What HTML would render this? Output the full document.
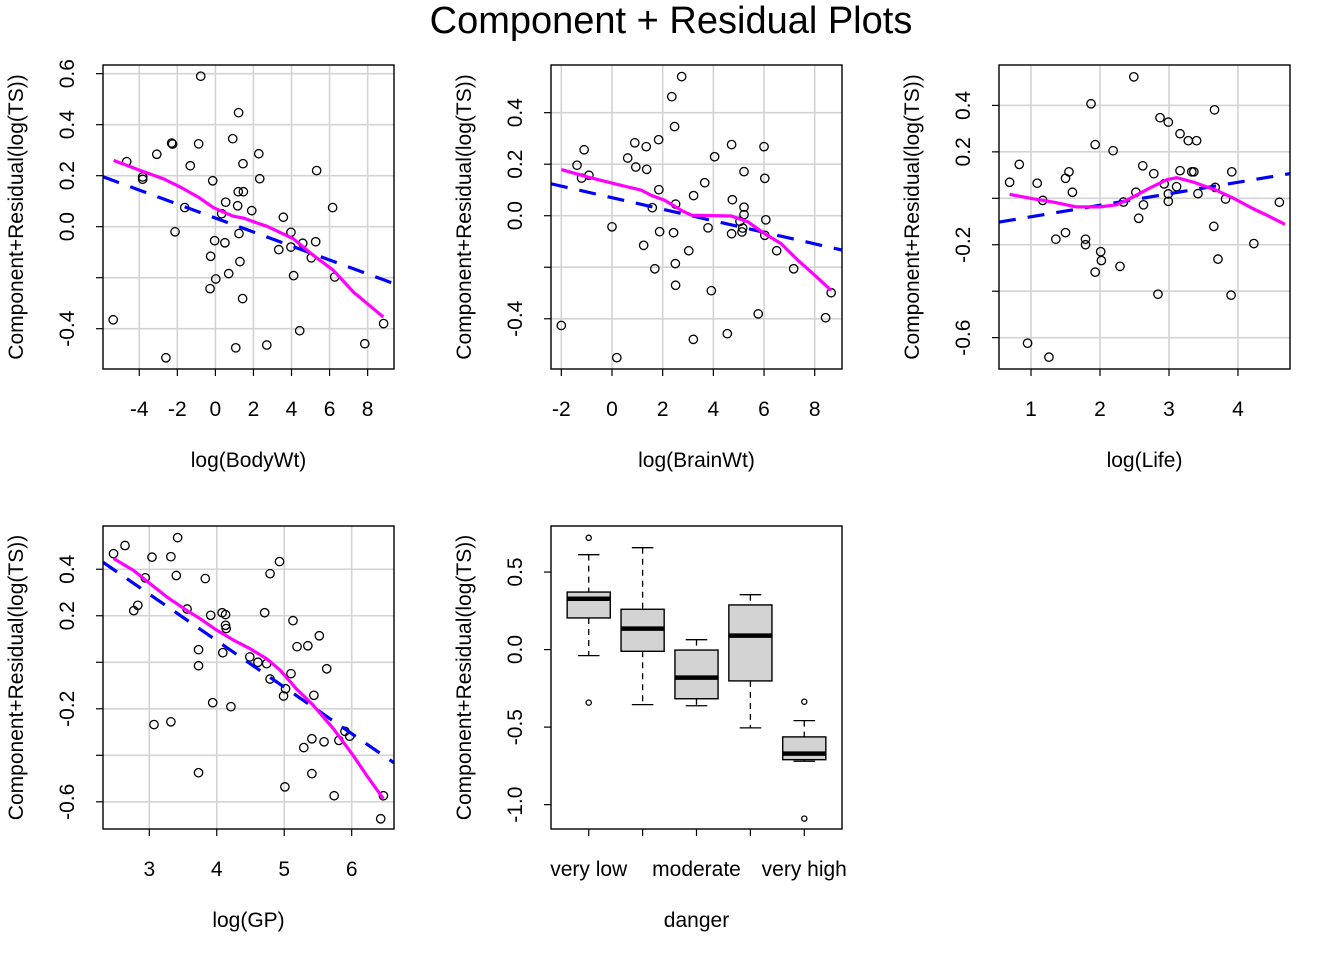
<!DOCTYPE html>
<html><head><meta charset="utf-8"><style>
body{margin:0;background:#fff;}
svg{display:block;font-family:"Liberation Sans",Arial,sans-serif;}
</style></head><body>
<svg id="chart" width="1344" height="960" viewBox="0 0 1344 960" xmlns="http://www.w3.org/2000/svg">
<rect width="1344" height="960" fill="#fff"/>
<text x="671" y="33" font-size="38" text-anchor="middle">Component + Residual Plots</text>
</svg>
<script>
// Panel 1: log(BodyWt)
const p1x=[-0.77,1.22,0.91,-2.30,-2.25,-0.88,-3.08,2.28,-4.66,-1.32,1.45,5.32,-3.82,-3.82,-0.14,2.33,1.20,1.47,0.54,1.17,-1.61,1.91,6.16,0.33,3.57,-2.12,1.24,3.97,-0.04,0.50,4.59,5.27,3.97,3.33,-0.25,5.04,1.29,0.70,4.11,6.27,0.02,-0.28,1.43,-5.37,8.84,4.43,7.85,2.70,1.07,-2.60];
const p1y=[0.59,0.447,0.345,0.328,0.324,0.325,0.284,0.286,0.255,0.239,0.247,0.22,0.195,0.186,0.18,0.188,0.137,0.137,0.096,0.082,0.075,0.063,0.075,0.051,0.037,-0.02,-0.027,-0.022,-0.055,-0.063,-0.065,-0.059,-0.08,-0.09,-0.116,-0.122,-0.137,-0.184,-0.192,-0.197,-0.205,-0.243,-0.282,-0.365,-0.38,-0.408,-0.459,-0.464,-0.475,-0.514];
const p1sx=[-5.35,-3.96,-2.74,-1.86,-0.90,-0.11,0.94,1.47,2.17,2.70,4.09,5.14,6.20,7.25,8.82];
const p1sy=[0.26,0.221,0.188,0.156,0.116,0.075,0.041,0.034,0.015,0.002,-0.047,-0.112,-0.171,-0.256,-0.354];
const p1fit=[0.034,-0.0274];
// Panel 2: log(BrainWt)
const p2x=[2.75,2.36,2.47,-1.10,0.90,1.35,1.84,4.72,6.00,4.05,0.62,-1.38,0.94,1.37,5.21,-1.20,-0.91,6.03,3.66,1.85,3.22,4.75,2.51,1.59,5.21,5.21,6.07,5.05,0.0,3.79,5.16,1.88,2.43,4.72,5.13,6.03,1.25,3.03,6.50,2.50,1.69,7.17,2.51,3.92,8.65,5.77,8.43,-2.0,4.55,3.21,0.19];
const p2y=[0.54,0.462,0.346,0.256,0.283,0.268,0.295,0.276,0.268,0.229,0.224,0.196,0.189,0.18,0.171,0.146,0.157,0.145,0.128,0.101,0.078,0.062,0.045,0.031,0.033,0.004,-0.016,-0.022,-0.043,-0.047,-0.048,-0.062,-0.066,-0.07,-0.063,-0.076,-0.115,-0.136,-0.136,-0.186,-0.206,-0.206,-0.27,-0.291,-0.299,-0.381,-0.396,-0.426,-0.458,-0.48,-0.551];
const p2sx=[-2.0,-0.95,0.11,1.16,1.55,2.08,2.73,3.13,4.71,5.37,6.03,6.68,7.34,8.0,8.65];
const p2sy=[0.179,0.15,0.124,0.099,0.079,0.06,0.021,0.002,-0.001,-0.024,-0.07,-0.109,-0.173,-0.231,-0.29];
const p2fit=[0.070,-0.0224];
// Panel 3: log(Life)
const p3x=[2.49,1.87,3.66,2.87,2.99,3.16,3.28,3.40,1.93,2.19,0.83,2.62,1.55,2.78,3.16,3.33,3.36,3.91,0.69,1.09,1.50,2.93,3.11,3.67,1.60,2.52,2.99,3.42,1.17,2.34,2.99,3.82,4.60,2.63,2.56,3.65,1.36,1.50,1.79,1.79,4.23,2.01,2.02,2.29,1.93,3.71,2.84,3.90,0.95,1.26];
const p3y=[0.523,0.407,0.381,0.347,0.328,0.278,0.248,0.248,0.231,0.205,0.146,0.14,0.114,0.106,0.119,0.114,0.114,0.114,0.069,0.065,0.086,0.062,0.05,0.047,0.026,0.026,0.019,0.02,-0.009,-0.016,-0.013,-0.003,-0.017,-0.028,-0.086,-0.121,-0.176,-0.148,-0.176,-0.2,-0.195,-0.23,-0.268,-0.293,-0.318,-0.262,-0.413,-0.417,-0.624,-0.684];
const p3sx=[0.69,1.03,1.32,1.66,2.0,2.24,2.48,2.72,2.97,3.11,3.35,3.69,3.93,4.22,4.42,4.68];
const p3sy=[0.017,-0.002,-0.016,-0.037,-0.037,-0.028,0.006,0.044,0.08,0.089,0.07,0.034,0.001,-0.045,-0.073,-0.112];
const p3fit=[-0.129,0.0495];
// Panel 4: log(GP)
const p4x=[3.42,2.64,2.47,3.04,3.32,4.93,4.79,3.40,2.94,3.83,2.83,2.77,3.56,4.71,3.91,4.08,4.13,4.13,4.14,5.13,5.52,5.19,5.35,3.73,4.09,4.49,4.61,4.74,3.73,5.63,5.10,4.79,5.02,4.99,5.44,3.94,4.21,3.07,3.32,5.90,5.97,5.41,5.59,5.81,5.29,3.73,5.41,5.01,5.74,6.47,6.43];
const p4y=[0.536,0.502,0.467,0.452,0.454,0.433,0.381,0.373,0.363,0.36,0.245,0.222,0.229,0.213,0.202,0.213,0.205,0.159,0.145,0.179,0.114,0.067,0.071,0.054,0.041,0.023,0,-0.006,-0.015,-0.028,-0.049,-0.072,-0.114,-0.145,-0.142,-0.174,-0.191,-0.268,-0.256,-0.297,-0.318,-0.329,-0.342,-0.336,-0.367,-0.475,-0.479,-0.536,-0.574,-0.574,-0.673];
const p4sx=[2.47,2.76,3.01,3.26,3.55,3.75,4.0,4.25,4.49,4.74,4.94,5.18,5.43,5.73,6.02,6.22,6.47];
const p4sy=[0.446,0.396,0.338,0.281,0.224,0.188,0.138,0.095,0.059,0.015,-0.034,-0.114,-0.185,-0.286,-0.4,-0.486,-0.587];
const p4fit=[0.893,-0.2];
// Panel 5: danger boxplot
const dangerCats=["very low","low","moderate","high","very high"];
const dangerLabels=["very low","","moderate","","very high"];
const boxLowW=[-0.039,-0.355,-0.362,-0.505,-0.72];
const boxQ1=[0.204,-0.011,-0.317,-0.202,-0.71];
const boxMed=[0.328,0.135,-0.181,0.09,-0.671];
const boxQ3=[0.371,0.26,-0.003,0.288,-0.563];
const boxHighW=[0.612,0.657,0.064,0.354,-0.458];
const outCat=[1,1,5,5];
const outVal=[0.721,-0.342,-0.336,-1.09];

const NS="http://www.w3.org/2000/svg";
const svg=document.getElementById('chart');
function mk(tag,attrs,parent){const e=document.createElementNS(NS,tag);for(const k in attrs)e.setAttribute(k,attrs[k]);(parent||svg).appendChild(e);return e;}
const FS=21;

const panels=[
 {L:103,R:394,T:65,B:369,xmin:-5.906,xmax:9.385,ymin:-0.558,ymax:0.634,xt:[-4,-2,0,2,4,6,8],xl:["-4","-2","0","2","4","6","8"],yt:[-0.4,-0.2,0,0.2,0.4,0.6],yl:["-0.4","","0.0","0.2","0.4","0.6"],title:"log(BodyWt)",px:p1x,py:p1y,sx:p1sx,sy:p1sy,fit:p1fit,name:"bodywt"},
 {L:551,R:842,T:65,B:369,xmin:-2.407,xmax:9.077,ymin:-0.595,ymax:0.585,xt:[-2,0,2,4,6,8],xl:["-2","0","2","4","6","8"],yt:[-0.4,-0.2,0,0.2,0.4],yl:["-0.4","","0.0","0.2","0.4"],title:"log(BrainWt)",px:p2x,py:p2y,sx:p2sx,sy:p2sy,fit:p2fit,name:"brainwt"},
 {L:999,R:1290,T:65,B:369,xmin:0.536,xmax:4.754,ymin:-0.735,ymax:0.574,xt:[1,2,3,4],xl:["1","2","3","4"],yt:[-0.6,-0.4,-0.2,0,0.2,0.4],yl:["-0.6","","-0.2","","0.2","0.4"],title:"log(Life)",px:p3x,py:p3y,sx:p3sx,sy:p3sy,fit:p3fit,name:"life"},
 {L:103,R:394,T:526,B:829,xmin:2.314,xmax:6.627,ymin:-0.717,ymax:0.586,xt:[3,4,5,6],xl:["3","4","5","6"],yt:[-0.6,-0.4,-0.2,0,0.2,0.4],yl:["-0.6","","-0.2","","0.2","0.4"],title:"log(GP)",px:p4x,py:p4y,sx:p4sx,sy:p4sy,fit:p4fit,name:"gp"}
];

function axes(p,grid){
 const X=v=>p.L+(v-p.xmin)/(p.xmax-p.xmin)*(p.R-p.L);
 const Y=v=>p.B-(v-p.ymin)/(p.ymax-p.ymin)*(p.B-p.T);
 const g=mk('g',{});
 
 
 if(grid){
  p.xt.forEach(v=>{const l=mk('line',{x1:X(v),x2:X(v),y1:p.T,y2:p.B,stroke:'#d3d3d3','stroke-width':1.6},g);
   });
  p.yt.forEach(v=>{const l=mk('line',{x1:p.L,x2:p.R,y1:Y(v),y2:Y(v),stroke:'#d3d3d3','stroke-width':1.6},g);
   });
 }
 p.xt.forEach((v,i)=>{mk('line',{x1:X(v),x2:X(v),y1:p.B,y2:p.B+7,stroke:'#000','stroke-width':1.2},g);
  if(p.xl[i]){const t=mk('text',{x:X(v),y:p.B+47,'font-size':FS,'text-anchor':'middle'},g);t.textContent=p.xl[i];
   }});
 p.yt.forEach((v,i)=>{mk('line',{x1:p.L-7,x2:p.L,y1:Y(v),y2:Y(v),stroke:'#000','stroke-width':1.2},g);
  if(p.yl[i]){const t=mk('text',{x:0,y:0,'font-size':FS,'text-anchor':'middle',transform:`translate(${p.L-29},${Y(v)}) rotate(-90)`},g);t.textContent=p.yl[i];
   }});
 const xt=mk('text',{x:(p.L+p.R)/2,y:p.B+98,'font-size':FS,'text-anchor':'middle'},g);xt.textContent=p.title;
 
 const yt=mk('text',{x:0,y:0,'font-size':FS,'text-anchor':'middle',transform:`translate(${p.L-80},${(p.T+p.B)/2}) rotate(-90)`},g);yt.textContent="Component+Residual(log(TS))";
 
 return {X,Y,g};
}

panels.forEach((p,k)=>{
 const {X,Y,g}=axes(p,true);
 const cp=mk('clipPath',{id:'clip'+k},g);mk('rect',{x:p.L,y:p.T,width:p.R-p.L,height:p.B-p.T},cp);
 p.px.forEach((v,i)=>{const c=mk('circle',{cx:X(v),cy:Y(p.py[i]),r:4.2,fill:'none',stroke:'#000','stroke-width':1.3},g);
  });
 const fl=mk('line',{x1:X(p.xmin),y1:Y(p.fit[0]+p.fit[1]*p.xmin),x2:X(p.xmax),y2:Y(p.fit[0]+p.fit[1]*p.xmax),stroke:'#0000ff','stroke-width':3.2,'stroke-dasharray':'17,12','clip-path':`url(#clip${k})`},g);
 
 const pts=p.sx.map((v,i)=>X(v)+','+Y(p.sy[i])).join(' ');
 const sm=mk('polyline',{points:pts,fill:'none',stroke:'#ff00ff','stroke-width':3.2,'stroke-linejoin':'round'},g);
 
 const fr=mk('rect',{x:p.L,y:p.T,width:p.R-p.L,height:p.B-p.T,fill:'none',stroke:'#000','stroke-width':1.4},g);
 
});

// Boxplot panel
const p5={L:551,R:842,T:526,B:829,xmin:0.3,xmax:5.7,ymin:-1.157,ymax:0.797,xt:[1,2,3,4,5],xl:dangerLabels,yt:[-1,-0.5,0,0.5],yl:["-1.0","-0.5","0.0","0.5"],title:"danger",name:"danger"};
(function(){
 const {X,Y,g}=axes(p5,false);
 dangerCats.forEach((c,i)=>{
  const x=X(i+1),hw=0.4*(X(1)-X(0)),cw=0.2*(X(1)-X(0));
  const bg=mk('g',{},g);
  
  
  mk('line',{x1:x,x2:x,y1:Y(boxHighW[i]),y2:Y(boxQ3[i]),stroke:'#000','stroke-width':1.3,'stroke-dasharray':'6,5'},bg);
  mk('line',{x1:x,x2:x,y1:Y(boxQ1[i]),y2:Y(boxLowW[i]),stroke:'#000','stroke-width':1.3,'stroke-dasharray':'6,5'},bg);
  mk('line',{x1:x-cw,x2:x+cw,y1:Y(boxHighW[i]),y2:Y(boxHighW[i]),stroke:'#000','stroke-width':1.3},bg);
  mk('line',{x1:x-cw,x2:x+cw,y1:Y(boxLowW[i]),y2:Y(boxLowW[i]),stroke:'#000','stroke-width':1.3},bg);
  mk('rect',{x:x-hw,y:Y(boxQ3[i]),width:2*hw,height:Y(boxQ1[i])-Y(boxQ3[i]),fill:'#d3d3d3',stroke:'#000','stroke-width':1.4},bg);
  mk('line',{x1:x-hw,x2:x+hw,y1:Y(boxMed[i]),y2:Y(boxMed[i]),stroke:'#000','stroke-width':4.5},bg);
 });
 outCat.forEach((c,i)=>{const o=mk('circle',{cx:X(c),cy:Y(outVal[i]),r:2.6,fill:'none',stroke:'#000','stroke-width':1.3},g);
  });
 const fr=mk('rect',{x:p5.L,y:p5.T,width:p5.R-p5.L,height:p5.B-p5.T,fill:'none',stroke:'#000','stroke-width':1.4},g);
 
})();
</script>
</body></html>
